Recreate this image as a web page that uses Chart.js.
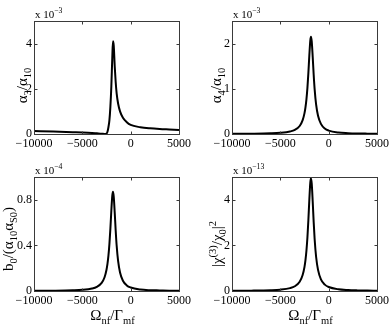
<!DOCTYPE html>
<html><head><meta charset="utf-8">
<script src="https://cdn.jsdelivr.net/npm/chart.js@4.4.1/dist/chart.umd.min.js"></script>
<style>
html,body{margin:0;padding:0;background:#fff;width:392px;height:326px;overflow:hidden}
canvas{position:absolute}
</style></head><body>
<canvas id="c1" width="196" height="163" style="left:0px;top:0px"></canvas>
<canvas id="c2" width="196" height="163" style="left:196px;top:0px"></canvas>
<canvas id="c3" width="196" height="163" style="left:0px;top:163px"></canvas>
<canvas id="c4" width="196" height="163" style="left:196px;top:163px"></canvas>
<script>
// ---- data ----
const xValues = [-10000,-8000,-6000,-5000,-4000,-3500,-3000,-2700,-2500,-2400,-2300,-2200,-2100,-2000,-1900,-1830,-1750,-1650,-1550,-1450,-1300,-1100,-800,-400,0,1000,2000,3000,4000,5000];
const alpha3 = [0.13,0.11,0.08,0.065,0.045,0.03,0.015,0.003,0.02,0.1,0.3,0.6,1.2,2.1,3.4,4.1,3.9,3.0,2.3,1.8,1.35,1.0,0.72,0.52,0.4,0.3,0.25,0.22,0.2,0.18];
const alpha4 = [0.004,0.007,0.015,0.026,0.055,0.09,0.177,0.3,0.461,0.589,0.767,1.015,1.348,1.739,2.067,2.15,2.043,1.701,1.311,0.987,0.653,0.402,0.223,0.121,0.076,0.032,0.018,0.011,0.008,0.006];
const b0ratio = [0.002,0.003,0.006,0.01,0.022,0.037,0.072,0.121,0.187,0.238,0.31,0.411,0.545,0.704,0.837,0.87,0.827,0.688,0.531,0.399,0.264,0.163,0.09,0.049,0.031,0.013,0.007,0.005,0.003,0.002];
const chi3ratio = [0.009,0.016,0.035,0.06,0.126,0.208,0.407,0.69,1.061,1.355,1.766,2.337,3.104,4.005,4.759,4.95,4.703,3.915,3.019,2.272,1.503,0.925,0.512,0.28,0.175,0.075,0.041,0.026,0.018,0.013];
const xTicks = [-10000,-5000,0,5000];
const yTicksA3 = [0,2,4];
const yTicksA4 = [0,1,2];
const yTicksB0 = [0,0.4,0.8];
const yTicksChi = [0,2,4];
const exponentsText = ['−3','−3','−4','−13'];

const SERIF = "'Liberation Serif','Times New Roman',serif";

function segFont(s, size){ return (s.k ? size*0.7 : size) + 'px ' + SERIF; }
function richWidth(ctx, segs, size){
  let w = 0;
  for (const s of segs){ ctx.font = segFont(s,size); w += ctx.measureText(s.t).width; }
  return w;
}
function drawRich(ctx, segs, size, x0, y0, rot, align){
  ctx.save();
  ctx.translate(x0, y0);
  if (rot) ctx.rotate(-Math.PI/2);
  ctx.textBaseline = 'alphabetic'; ctx.textAlign = 'left'; ctx.fillStyle = '#000';
  const w = richWidth(ctx, segs, size);
  let x = align === 'left' ? 0 : -w/2;
  for (const s of segs){
    ctx.font = segFont(s,size);
    const dy = s.k === 'sub' ? size*0.28 : (s.k === 'sup' ? -size*0.42 : 0);
    ctx.fillText(s.t, x, dy);
    x += ctx.measureText(s.t).width;
  }
  ctx.restore();
}

function makeChart(id, ys, yMax, yTicks, ySegs, expText, geom){
  const points = xValues.map((v,i)=>({x:v, y:ys[i]}));
  const frame = {
    id:'frame',
    afterDraw(chart){
      const {ctx, chartArea:a, scales} = chart;
      const L = a.left+0.5, R = a.right+0.5, T = a.top+0.5, B = a.bottom+0.5;
      ctx.save();
      ctx.strokeStyle = '#3a3a3a'; ctx.lineWidth = 1;
      ctx.strokeRect(L, T, R-L, B-T);
      ctx.beginPath();
      for (const v of xTicks){
        const px = Math.round(scales.x.getPixelForValue(v))+0.5;
        ctx.moveTo(px,B); ctx.lineTo(px,B-3);
        ctx.moveTo(px,T); ctx.lineTo(px,T+3);
      }
      for (const v of yTicks){
        const py = Math.round(scales.y.getPixelForValue(v))+0.5;
        ctx.moveTo(L,py); ctx.lineTo(L+3,py);
        ctx.moveTo(R,py); ctx.lineTo(R-3,py);
      }
      ctx.stroke();
      ctx.restore();
      drawRich(ctx, [{t:'x 10'},{t:expText,k:'sup'}], 11, a.left+1, a.top-3, false, 'left');
      drawRich(ctx, ySegs, 15, geom.ylx, (a.top+a.bottom)/2 + geom.yoff, true);
      if (geom.xlabel){
        drawRich(ctx, [{t:'Ω'},{t:'nf',k:'sub'},{t:'/Γ'},{t:'mf',k:'sub'}], 15, (a.left+a.right)/2 + 6, geom.xly, false);
      }
    }
  };
  return new Chart(document.getElementById(id), {
    type:'line',
    data:{datasets:[{data:points, borderColor:'#000', borderWidth:2, pointRadius:0, cubicInterpolationMode:'monotone', fill:false, clip:false}]},
    options:{
      responsive:false, animation:false, devicePixelRatio:1,
      layout:{padding:{left:0, right:geom.R, top:geom.T, bottom:0}},
      plugins:{legend:{display:false}, tooltip:{enabled:false}},
      scales:{
        x:{type:'linear', min:-10000, max:5000,
           grid:{display:false, drawTicks:false}, border:{display:false},
           afterBuildTicks(s){ s.ticks = xTicks.map(v=>({value:v})); },
           afterFit(s){ s.height = geom.H; },
           ticks:{color:'#000', padding:3, maxRotation:0, autoSkip:false, font:{family:SERIF, size:12},
             callback:(v)=> v<0 ? '−'+Math.abs(v) : String(v)}},
        y:{type:'linear', min:0, max:yMax,
           grid:{display:false, drawTicks:false}, border:{display:false},
           afterBuildTicks(s){ s.ticks = yTicks.map(v=>({value:v})); },
           afterFit(s){ s.width = geom.L; },
           ticks:{color:'#000', padding:2, autoSkip:false, font:{family:SERIF, size:12},
             callback:(v)=> String(v)}}
      }
    },
    plugins:[frame]
  });
}

makeChart('c1', alpha3, 5, yTicksA3,
  [{t:'α'},{t:'3',k:'sub'},{t:'/α'},{t:'10',k:'sub'}], exponentsText[0],
  {L:34, R:17, T:21, H:29, ylx:27, yoff:8, xlabel:false});
makeChart('c2', alpha4, 2.5, yTicksA4,
  [{t:'α'},{t:'4',k:'sub'},{t:'/α'},{t:'10',k:'sub'}], exponentsText[1],
  {L:36, R:15, T:21, H:29, ylx:25, yoff:8, xlabel:false});
makeChart('c3', b0ratio, 1, yTicksB0,
  [{t:'b'},{t:'0',k:'sub'},{t:'/(α'},{t:'10',k:'sub'},{t:'α'},{t:'S0',k:'sub'},{t:')'}], exponentsText[2],
  {L:34, R:17, T:14, H:35, ylx:13, yoff:5, xlabel:true, xly:157});
makeChart('c4', chi3ratio, 5, yTicksChi,
  [{t:'|χ'},{t:'(3)',k:'sup'},{t:'/χ'},{t:'0',k:'sub'},{t:'|'},{t:'2',k:'sup'}], exponentsText[3],
  {L:36, R:15, T:14, H:35, ylx:26, yoff:10, xlabel:true, xly:157});
</script>
</body></html>
